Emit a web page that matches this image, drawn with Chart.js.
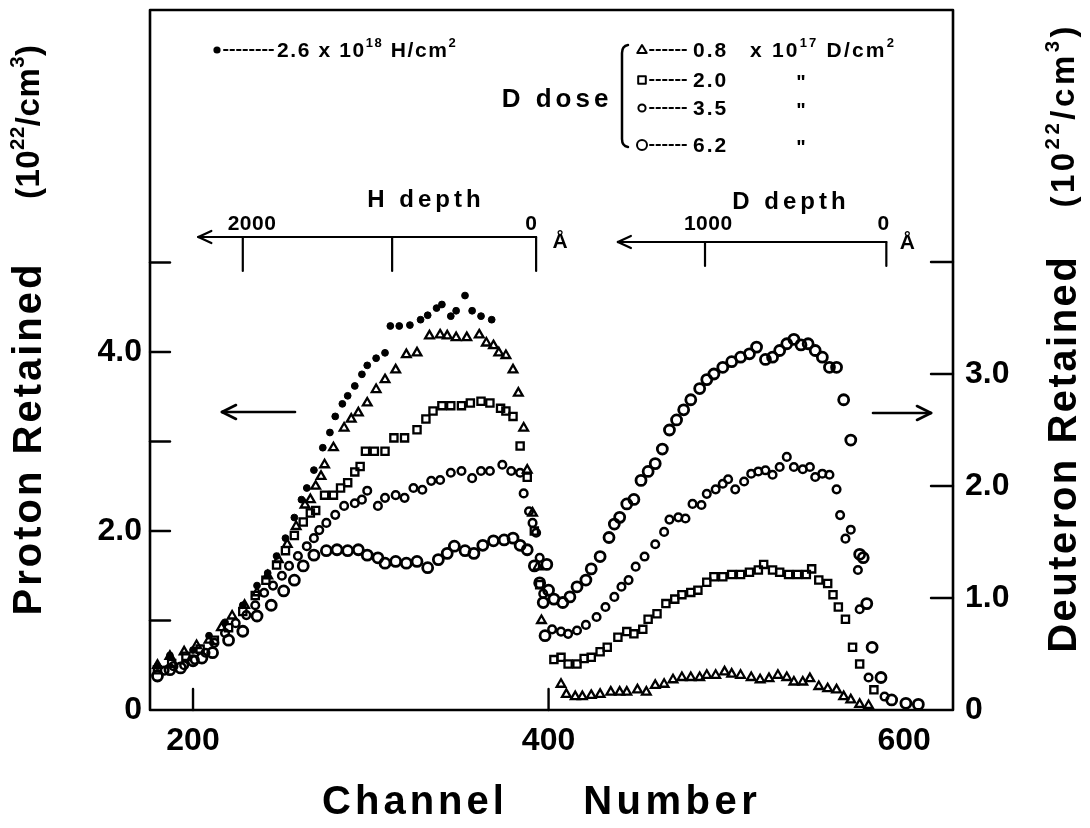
<!DOCTYPE html>
<html><head><meta charset="utf-8">
<script src="https://cdn.jsdelivr.net/npm/chart.js@4.4.1/dist/chart.umd.min.js"></script>
<style>html,body{margin:0;padding:0;background:#fff;}#wrap{width:1090px;height:828px;}</style>
</head><body><div id="wrap"><canvas id="c" width="1090" height="828"></canvas></div>
<script>
// ---------- axis ticks ----------
const xTicks = [200, 400, 600];
const xTickLabels = ['200', '400', '600'];
const xTickMarks = [200, 400];
const leftTicks = [0, 1, 2, 3, 4, 5];
const leftTickLabels = ['0', '', '2.0', '', '4.0', ''];
const rightTicks = [0, 1, 2, 3, 4];
const rightTickLabels = ['0', '1.0', '2.0', '3.0', ''];

// depth scales (channel positions of depth marks)
const hDepthCh = [393, 312, 228];
const hDepthLabels = ['0', '', '2000'];
const hDepthArrowCh = 203;
const dDepthCh = [590, 488];
const dDepthLabels = ['0', '1000'];
const dDepthArrowCh = 439;

// ---------- data: proton retained (left axis) ----------
const hCh  = [180,187,200,209,218,228,236,242,247,252,257,261,264,268,273,277,280,284,287,291,295,298,303,308,311,316,322,328,332,337,340,345,348,353,357,362,368];
const hVal = [0.49,0.61,0.67,0.83,0.98,1.17,1.39,1.53,1.72,1.92,2.15,2.35,2.48,2.68,2.93,3.10,3.28,3.42,3.51,3.62,3.75,3.85,3.93,3.99,4.29,4.29,4.30,4.36,4.41,4.49,4.53,4.40,4.46,4.63,4.46,4.40,4.36];

const t8LCh  = [180,187,195,202,209,216,222,229,236,242,248,253,258,263,266,269,272,274,279,285,289,293,298,303,308,314,320,326,333,339,343,348,354,361,365,369,372,376,380,383,386,388,391,394,396];
const t8LVal = [0.50,0.60,0.65,0.72,0.78,0.92,1.05,1.17,1.31,1.50,1.68,1.85,2.05,2.29,2.35,2.50,2.61,2.74,2.93,3.15,3.25,3.32,3.43,3.58,3.69,3.80,3.97,3.99,4.18,4.19,4.18,4.16,4.16,4.19,4.10,4.07,3.99,3.96,3.80,3.54,3.15,2.68,2.20,1.60,1.00];

const s2LCh  = [180,188,196,204,212,220,228,235,241,247,252,257,262,266,269,274,279,283,287,291,294,297,302,308,313,319,326,331,335,340,345,351,356,362,367,373,376,380,384,388,392,395];
const s2LVal = [0.45,0.52,0.60,0.68,0.78,0.92,1.10,1.28,1.45,1.62,1.78,1.95,2.10,2.20,2.23,2.40,2.40,2.48,2.54,2.66,2.72,2.89,2.89,2.89,3.04,3.04,3.13,3.25,3.34,3.40,3.40,3.40,3.43,3.45,3.43,3.37,3.34,3.28,2.95,2.60,2.00,1.40];

const c35LCh  = [184,189,195,201,207,212,218,224,230,235,240,245,250,254,259,264,268,271,275,280,285,291,295,298,304,308,314,319,324,329,334,339,345,351,357,362,367,374,379,384,386,389,391,393,395,397];
const c35LVal = [0.44,0.49,0.50,0.56,0.64,0.75,0.86,0.97,1.06,1.17,1.31,1.39,1.50,1.61,1.72,1.83,1.92,2.01,2.09,2.18,2.28,2.31,2.35,2.45,2.28,2.37,2.40,2.37,2.48,2.46,2.56,2.57,2.65,2.67,2.59,2.67,2.67,2.74,2.67,2.65,2.42,2.22,2.09,1.98,1.70,1.30];

const c62LCh  = [180,187,193,200,205,211,220,228,236,244,251,257,262,268,275,281,287,293,298,304,308,314,320,326,332,338,343,347,353,358,363,369,375,380,384,388,392,395,397,398];
const c62LVal = [0.38,0.45,0.47,0.55,0.58,0.64,0.78,0.88,1.05,1.17,1.33,1.45,1.61,1.73,1.78,1.79,1.78,1.79,1.73,1.70,1.64,1.66,1.64,1.66,1.59,1.68,1.75,1.83,1.78,1.75,1.84,1.89,1.90,1.92,1.84,1.79,1.61,1.42,1.20,0.83];

// ---------- data: deuteron retained (right axis) ----------
const c62RCh  = [399,400,403,408,412,416,421,424,429,434,437,440,444,448,452,456,460,464,468,472,476,480,485,489,493,498,503,508,513,517,522,526,530,534,538,542,546,550,554,558,562,566,570,575,577,579,582,587,593,601,608];
const c62RVal = [1.30,1.07,0.99,0.96,1.01,1.10,1.16,1.26,1.37,1.54,1.66,1.72,1.84,1.88,2.05,2.13,2.20,2.33,2.50,2.59,2.68,2.77,2.87,2.95,3.00,3.06,3.11,3.15,3.18,3.24,3.13,3.15,3.21,3.27,3.31,3.26,3.27,3.21,3.15,3.06,3.06,2.77,2.41,1.39,1.36,0.95,0.56,0.29,0.09,0.06,0.05];

const c35RCh  = [402,407,411,416,421,427,432,437,441,445,449,454,460,465,468,473,477,481,486,489,494,498,501,505,510,514,518,522,526,530,534,538,543,547,550,554,558,562,564,567,570,574,575,580,589];
const c35RVal = [0.72,0.70,0.68,0.71,0.76,0.83,0.92,1.01,1.10,1.16,1.28,1.37,1.48,1.59,1.70,1.72,1.71,1.84,1.83,1.93,1.97,2.02,2.06,1.97,2.04,2.11,2.13,2.14,2.10,2.17,2.26,2.17,2.15,2.17,2.08,2.11,2.10,1.97,1.74,1.53,1.61,1.25,0.90,0.29,0.12];

const s2RCh  = [403,407,411,416,420,424,429,433,439,444,448,453,456,461,466,471,475,480,484,489,493,498,503,508,513,518,521,526,530,535,540,545,548,552,557,560,563,567,571,575,583];
const s2RVal = [0.45,0.47,0.41,0.41,0.46,0.47,0.52,0.56,0.65,0.70,0.68,0.72,0.81,0.86,0.95,0.99,1.03,1.05,1.07,1.14,1.19,1.19,1.21,1.21,1.23,1.25,1.30,1.25,1.23,1.21,1.21,1.21,1.26,1.16,1.13,1.03,0.92,0.81,0.56,0.41,0.18];

const t8RCh  = [407,410,415,419,424,429,435,440,444,450,455,460,465,470,475,480,485,489,494,499,503,508,514,519,524,529,534,538,543,547,552,557,562,566,570,575,580];
const t8RVal = [0.23,0.14,0.12,0.12,0.13,0.14,0.16,0.16,0.16,0.18,0.16,0.22,0.23,0.27,0.29,0.29,0.29,0.31,0.31,0.34,0.32,0.31,0.29,0.27,0.28,0.31,0.29,0.25,0.25,0.28,0.21,0.19,0.18,0.12,0.09,0.05,0.04];

// ---------- helpers ----------
const F = '"Liberation Sans", Arial, sans-serif';
function pts(xs, ys) { return xs.map((x, i) => ({ x: x, y: ys[i] })); }
const CLEAR = 'rgba(0,0,0,0)';
const styTri = { pointStyle: 'triangle', pointRadius: 5, borderWidth: 2.3, borderColor: '#000', backgroundColor: CLEAR };
const stySq  = { pointStyle: 'rect', pointRadius: 5.1, borderWidth: 2.3, borderColor: '#000', backgroundColor: CLEAR };
const styC35 = { pointStyle: 'circle', pointRadius: 3.8, borderWidth: 2.5, borderColor: '#000', backgroundColor: CLEAR };
const styC62 = { pointStyle: 'circle', pointRadius: 5, borderWidth: 2.8, borderColor: '#000', backgroundColor: CLEAR };
const styDot = { pointStyle: 'circle', pointRadius: 3.4, borderWidth: 1, borderColor: '#000', backgroundColor: '#000' };

function setFont(ctx, size, weight) { ctx.font = (weight || 'bold') + ' ' + size + 'px ' + F; }
function richWidth(ctx, segs, size, sp) {
  let w = 0, n = 0;
  segs.forEach(s => { setFont(ctx, s.sup ? size * 0.62 : size, s.w); for (const ch of s.t) { w += ctx.measureText(ch).width + sp; n++; } });
  return n ? w - sp : 0;
}
function drawRich(ctx, segs, x, y, size, sp, align) {
  const w = richWidth(ctx, segs, size, sp);
  let cx = align === 'center' ? x - w / 2 : (align === 'right' ? x - w : x);
  ctx.textAlign = 'left'; ctx.textBaseline = 'middle';
  segs.forEach(s => {
    const fs = s.sup ? size * 0.62 : size;
    setFont(ctx, fs, s.w);
    const dy = s.sup ? -size * 0.36 : 0;
    for (const ch of s.t) { ctx.fillText(ch, cx, y + dy); cx += ctx.measureText(ch).width + sp; }
  });
  return w;
}
function line(ctx, x1, y1, x2, y2) { ctx.beginPath(); ctx.moveTo(x1, y1); ctx.lineTo(x2, y2); ctx.stroke(); }
function marker(ctx, style, x, y, r, filled) {
  ctx.beginPath();
  if (style === 'circle') { ctx.arc(x, y, r, 0, Math.PI * 2); }
  else if (style === 'rect') { ctx.rect(x - r, y - r, 2 * r, 2 * r); }
  else if (style === 'triangle') { ctx.moveTo(x, y - r); ctx.lineTo(x + r * 0.95, y + r * 0.6); ctx.lineTo(x - r * 0.95, y + r * 0.6); ctx.closePath(); }
  if (filled) ctx.fill(); else ctx.stroke();
}
function noPad(s) { s.paddingTop = 0; s.paddingBottom = 0; s.paddingLeft = 0; s.paddingRight = 0; }

// ---------- annotation plugin ----------
const annot = {
  id: 'annot',
  afterDatasetsDraw(chart) {
    const { ctx, chartArea: a, scales } = chart;
    const x = scales.x, yL = scales.yL, yR = scales.yR;
    ctx.save();
    ctx.strokeStyle = '#000'; ctx.fillStyle = '#000'; ctx.lineCap = 'round'; ctx.lineJoin = 'round';
    // frame
    ctx.lineWidth = 2.6;
    ctx.strokeRect(a.left, a.top, a.right - a.left, a.bottom - a.top);
    // inward tick marks
    ctx.lineWidth = 2.4;
    leftTicks.forEach(v => { if (v === 0) return; const py = yL.getPixelForValue(v); line(ctx, a.left, py, a.left + 20, py); });
    rightTicks.forEach(v => { if (v === 0) return; const py = yR.getPixelForValue(v); line(ctx, a.right - 22, py, a.right, py); });
    xTickMarks.forEach(v => { const px = x.getPixelForValue(v); line(ctx, px, a.bottom, px, a.bottom - 21); });

    // depth scales
    ctx.lineWidth = 2.2;
    const hy = 237, dy = 242;
    let x0 = x.getPixelForValue(hDepthArrowCh), x1 = x.getPixelForValue(hDepthCh[0]);
    line(ctx, x0, hy, x1, hy);
    line(ctx, x0, hy, x0 + 13, hy - 6); line(ctx, x0, hy, x0 + 13, hy + 6);
    hDepthCh.forEach((c, i) => {
      const px = x.getPixelForValue(c); line(ctx, px, hy, px, hy + 34);
      if (hDepthLabels[i]) drawRich(ctx, [{ t: hDepthLabels[i] }], px + (hDepthLabels[i] === '0' ? -5 : 9), hy - 13, 21, 0.5, 'center');
    });
    drawRich(ctx, [{ t: 'Å' }], x1 + 24, hy + 5, 21, 0, 'center');
    drawRich(ctx, [{ t: 'H depth' }], 424, 200, 24, 4, 'center');

    x0 = x.getPixelForValue(dDepthArrowCh); x1 = x.getPixelForValue(dDepthCh[0]);
    line(ctx, x0, dy, x1, dy);
    line(ctx, x0, dy, x0 + 13, dy - 6); line(ctx, x0, dy, x0 + 13, dy + 6);
    dDepthCh.forEach((c, i) => {
      const px = x.getPixelForValue(c); line(ctx, px, dy, px, dy + 24);
      if (dDepthLabels[i]) drawRich(ctx, [{ t: dDepthLabels[i] }], px + (dDepthLabels[i] === '0' ? -3 : 3), dy - 18, 21, 0.5, 'center');
    });
    drawRich(ctx, [{ t: 'Å' }], x1 + 21, dy + 1, 21, 0, 'center');
    drawRich(ctx, [{ t: 'D depth' }], 789, 202, 24, 4, 'center');

    // direction arrows
    ctx.lineWidth = 2.6;
    line(ctx, 222, 412, 295, 412); line(ctx, 222, 412, 236, 405); line(ctx, 222, 412, 236, 419);
    line(ctx, 873, 413, 931, 413); line(ctx, 931, 413, 917, 406); line(ctx, 931, 413, 917, 420);

    // legend: hydrogen
    ctx.lineWidth = 2;
    marker(ctx, 'circle', 217, 50, 3.6, true);
    ctx.setLineDash([3.5, 3]); line(ctx, 224, 50, 274, 50); ctx.setLineDash([]);
    drawRich(ctx, [{ t: '2.6 x 10' }, { t: '18', sup: true }, { t: ' H/cm' }, { t: '2', sup: true }], 277, 51, 21, 1.6, 'left');

    // legend: D dose
    drawRich(ctx, [{ t: 'D dose' }], 555, 100, 26, 4, 'center');
    ctx.lineWidth = 2.5;
    ctx.beginPath(); ctx.moveTo(628, 45); ctx.quadraticCurveTo(622, 46, 622, 53); ctx.lineTo(622, 139);
    ctx.quadraticCurveTo(622, 146, 628, 147); ctx.stroke();
    const rows = [
      { y: 50, st: 'triangle', r: 5, lbl: '0.8', tail: [{ t: 'x 10' }, { t: '17', sup: true }, { t: ' D/cm' }, { t: '2', sup: true }] },
      { y: 80, st: 'rect', r: 3.8, lbl: '2.0', tail: null },
      { y: 108, st: 'circle', r: 3.6, lbl: '3.5', tail: null },
      { y: 145, st: 'circle', r: 5.0, lbl: '6.2', tail: null }
    ];
    rows.forEach(rw => {
      ctx.lineWidth = 2;
      marker(ctx, rw.st, 642, rw.y, rw.r, false);
      ctx.setLineDash([3.5, 3]); line(ctx, 650, rw.y, 689, rw.y); ctx.setLineDash([]);
      drawRich(ctx, [{ t: rw.lbl }], 693, rw.y + 1, 21, 2, 'left');
      if (rw.tail) drawRich(ctx, rw.tail, 750, rw.y + 1, 21, 2.2, 'left');
      else drawRich(ctx, [{ t: '"' }], 801, rw.y + 3, 20, 0, 'center');
    });

    // axis titles
    const unit = [{ t: '(10' }, { t: '22', sup: true }, { t: '/cm' }, { t: '3', sup: true }, { t: ')' }];
    ctx.save(); ctx.translate(30, 440); ctx.rotate(-Math.PI / 2);
    drawRich(ctx, [{ t: 'Proton Retained' }], 0, 0, 40, 3, 'center'); ctx.restore();
    ctx.save(); ctx.translate(30, 122); ctx.rotate(-Math.PI / 2);
    drawRich(ctx, unit, 0, 0, 33, 0.5, 'center'); ctx.restore();
    ctx.save(); ctx.translate(1065, 455); ctx.rotate(-Math.PI / 2);
    drawRich(ctx, [{ t: 'Deuteron Retained' }], 0, 0, 40, 2.5, 'center'); ctx.restore();
    ctx.save(); ctx.translate(1065, 117); ctx.rotate(-Math.PI / 2);
    drawRich(ctx, unit, 0, 0, 33, 3.5, 'center'); ctx.restore();
    drawRich(ctx, [{ t: 'Channel' }], 413, 803, 40, 4, 'center');
    drawRich(ctx, [{ t: 'Number' }], 670, 803, 40, 4.5, 'center');
    ctx.restore();
  }
};

const tickFont = { family: F, size: 32, weight: 'bold' };
const chart = new Chart(document.getElementById('c'), {
  type: 'scatter',
  data: {
    datasets: [
      Object.assign({ label: '6.2 D (D)', data: pts(c62RCh, c62RVal), yAxisID: 'yR' }, styC62),
      Object.assign({ label: '3.5 D (D)', data: pts(c35RCh, c35RVal), yAxisID: 'yR' }, styC35),
      Object.assign({ label: '2.0 D (D)', data: pts(s2RCh, s2RVal), yAxisID: 'yR' }, stySq),
      Object.assign({ label: '0.8 D (D)', data: pts(t8RCh, t8RVal), yAxisID: 'yR' }, styTri),
      Object.assign({ label: '6.2 D (H)', data: pts(c62LCh, c62LVal), yAxisID: 'yL' }, styC62),
      Object.assign({ label: '3.5 D (H)', data: pts(c35LCh, c35LVal), yAxisID: 'yL' }, styC35),
      Object.assign({ label: '2.0 D (H)', data: pts(s2LCh, s2LVal), yAxisID: 'yL' }, stySq),
      Object.assign({ label: '0.8 D (H)', data: pts(t8LCh, t8LVal), yAxisID: 'yL' }, styTri),
      Object.assign({ label: 'H only', data: pts(hCh, hVal), yAxisID: 'yL' }, styDot)
    ]
  },
  options: {
    responsive: false, animation: false, devicePixelRatio: 1,
    layout: { padding: { top: 10, left: 0, right: 0, bottom: 0 } },
    plugins: { legend: { display: false }, tooltip: { enabled: false } },
    scales: {
      x: {
        type: 'linear', position: 'bottom', min: 175.8, max: 627.5,
        afterBuildTicks: s => { s.ticks = xTicks.map(v => ({ value: v })); },
        afterFit: s => { s.height = 118; noPad(s); },
        ticks: { callback: v => { const i = xTicks.indexOf(v); return i >= 0 ? xTickLabels[i] : ''; }, font: tickFont, color: '#000', padding: 12, maxRotation: 0, autoSkip: false },
        grid: { display: false, drawTicks: false }, border: { display: false }
      },
      yL: {
        type: 'linear', position: 'left', min: 0, max: 7.82,
        afterBuildTicks: s => { s.ticks = leftTicks.map(v => ({ value: v })); },
        afterFit: s => { s.width = 150; noPad(s); },
        ticks: { callback: v => { const i = leftTicks.indexOf(v); return i >= 0 ? leftTickLabels[i] : ''; }, font: tickFont, color: '#000', padding: 8, autoSkip: false },
        grid: { display: false, drawTicks: false }, border: { display: false }
      },
      yR: {
        type: 'linear', position: 'right', min: 0, max: 6.25,
        afterBuildTicks: s => { s.ticks = rightTicks.map(v => ({ value: v })); },
        afterFit: s => { s.width = 137; noPad(s); },
        ticks: { callback: v => { const i = rightTicks.indexOf(v); return i >= 0 ? rightTickLabels[i] : ''; }, font: tickFont, color: '#000', padding: 12, autoSkip: false },
        grid: { display: false, drawTicks: false }, border: { display: false }
      }
    }
  },
  plugins: [annot]
});
</script>
</body></html>
